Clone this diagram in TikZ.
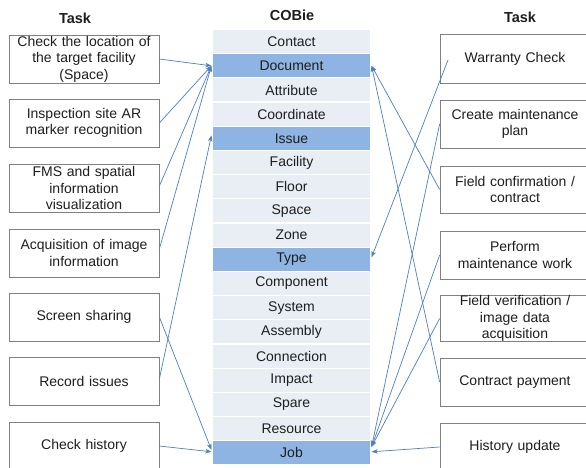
\documentclass[tikz,border=0pt]{standalone}
\usepackage{fontspec}
\setmainfont{Liberation Sans}
\usetikzlibrary{arrows.meta}
\definecolor{rowlight}{RGB}{233,237,244}
\definecolor{rowdark}{RGB}{141,180,227}
\definecolor{arrowblue}{RGB}{79,129,189}
\definecolor{boxgray}{RGB}{128,128,128}
\definecolor{txt}{RGB}{30,30,30}
\begin{document}
\begin{tikzpicture}[x=1pt,y=-1pt,
  font=\fontsize{14}{16.4}\selectfont,
  taskbox/.style={draw=boxgray, line width=0.7pt, minimum width=150pt, text width=146pt, align=center, inner sep=0pt, text=txt},
  cobrow/.style={fill=rowlight, draw=white, line width=1.2pt, minimum width=159pt, minimum height=24.2pt, inner sep=0pt, text=txt},
  hirow/.style={cobrow, fill=rowdark},
  title/.style={font=\fontsize{14.5}{17}\selectfont\bfseries, text=txt},
  link/.style={draw=arrowblue, line width=0.7pt, -{Stealth[length=6pt,width=4.5pt,inset=1.5pt]}}]
\useasboundingbox (0,0) rectangle (586,468);
\clip (0,0) rectangle (586,468);
\fill[white] (0,0) rectangle (586,468);

% titles
\node[title] (tl) at (75,18) {Task};
\node[title] (tc) at (292,15) {COBie};
\node[title] (tr) at (520,17) {Task};

% COBie table
\node[cobrow] (contact) at (291.5,41.6) {Contact};
\node[hirow]  (doc)     at (291.5,65.8) {Document};
\node[cobrow] (attr)    at (291.5,90.0) {Attribute};
\node[cobrow] (coord)   at (291.5,114.2) {Coordinate};
\node[hirow]  (issue)   at (291.5,138.4) {Issue};
\node[cobrow] (fac)     at (291.5,162.6) {Facility};
\node[cobrow] (floor)   at (291.5,186.7) {Floor};
\node[cobrow] (space)   at (291.5,210.9) {Space};
\node[cobrow] (zone)    at (291.5,235.1) {Zone};
\node[hirow]  (type)    at (291.5,259.3) {Type};
\node[cobrow] (comp)    at (291.5,283.5) {Component};
\node[cobrow] (sys)     at (291.5,307.7) {System};
\node[cobrow] (asm)     at (291.5,331.9) {Assembly};
\node[cobrow] (conn)    at (291.5,356.1) {Connection};
\node[cobrow] (impact)  at (291.5,380.2) {Impact};
\node[cobrow] (spare)   at (291.5,404.4) {Spare};
\node[cobrow] (res)     at (291.5,428.6) {Resource};
\node[hirow]  (job)     at (291.5,452.8) {Job};

% left tasks
\node[taskbox, minimum height=48pt] (l1) at (84,59) {Check the location of\\the target facility\\(Space)};
\node[taskbox, minimum height=48pt] (l2) at (84,123) {Inspection site AR\\marker recognition};
\node[taskbox, minimum height=48pt] (l3) at (84,188) {FMS and spatial\\information\\visualization};
\node[taskbox, minimum height=48pt] (l4) at (84,253) {Acquisition of image\\information};
\node[taskbox, minimum height=48pt] (l5) at (84,317) {Screen sharing};
\node[taskbox, minimum height=48pt] (l6) at (84,381) {Record issues};
\node[taskbox, minimum height=48pt] (l7) at (84,446) {Check history};

% right tasks
\node[taskbox, minimum height=49pt] (r1) at (515,58.5) {Warranty Check};
\node[taskbox, minimum height=48pt] (r2) at (515,124) {Create maintenance\\plan};
\node[taskbox, minimum height=47pt] (r3) at (515,189.5) {Field confirmation /\\contract};
\node[taskbox, minimum height=48pt] (r4) at (515,255) {Perform\\maintenance work};
\node[taskbox, minimum height=45pt] (r5) at (515,318.5) {Field verification /\\image data\\acquisition};
\node[taskbox, minimum height=48pt] (r6) at (515,382) {Contract payment};
\node[taskbox, minimum height=48pt] (r7) at (515,447) {History update};

% left connectors
\draw[link] (l1.east) -- (doc.west);
\draw[link] (l2.east) -- (doc.west);
\draw[link] ([yshift=2pt]l3.east) -- (doc.west);
\draw[link] ([yshift=4pt]l4.east) -- (doc.west);
\draw[link] (l5.east) -- ([yshift=3pt]job.west);
\draw[link] ([yshift=2pt]l6.east) -- ([yshift=3pt]issue.west);
\draw[link] (l7.east) -- ([yshift=1pt]job.west);

% right connectors
\coordinate (wc) at (448,60);
\draw[link] (wc) -- ([yshift=2pt]type.east);
\draw[link] (r2.west) -- ([yshift=6pt]job.east);
\draw[link] (r3.west) -- (doc.east);
\draw[link] (r4.west) -- ([yshift=6pt]job.east);
\draw[link] (r5.west) -- ([yshift=6pt]job.east);
\draw[link] (r6.west) -- (doc.east);
\draw[link] (r7.west) -- ([yshift=1pt]job.east);
\end{tikzpicture}
\end{document}
